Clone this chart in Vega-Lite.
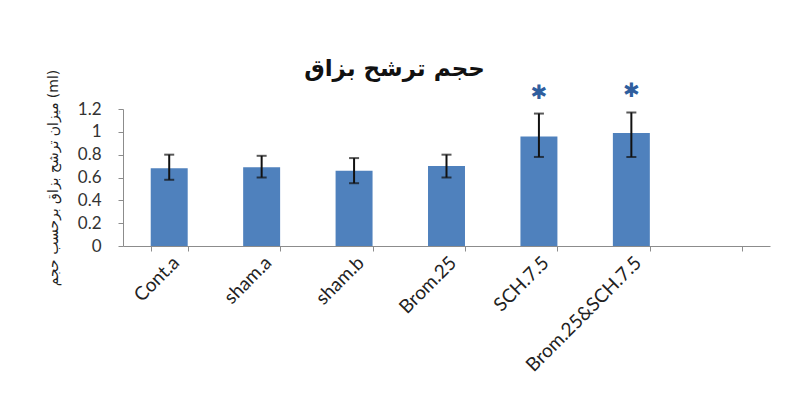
{
  "$schema": "https://vega.github.io/schema/vega-lite/v6.json",
  "autosize": {"type": "none"},
  "padding": {"left": 123, "top": 109, "right": 16, "bottom": 163},
  "width": 647,
  "height": 137,
  "background": "white",
  "title": {
    "text": "حجم ترشح بزاق",
    "font": "DejaVu Sans",
    "fontSize": 23,
    "fontWeight": "bold",
    "color": "#111111",
    "anchor": "middle",
    "frame": "group",
    "dx": -52,
    "offset": -12
  },
  "config": {
    "view": {"stroke": null},
    "font": "Lato, 'DejaVu Sans'",
    "axisY": {
      "tickCount": 7,
      "labelOverlap": false,
      "labelFontSize": 17,
      "labelColor": "#333333",
      "labelFont": "Lato",
      "grid": false,
      "tickSize": 5,
      "labelPadding": 17,
      "domainColor": "#8c8c8c",
      "tickColor": "#8c8c8c",
      "titleFont": "DejaVu Sans",
      "titleFontSize": 14,
      "titleFontWeight": "normal",
      "titleColor": "#222222",
      "titlePadding": 17
    }
  },
  "data": {
    "values": [
      {"group": "Cont.a", "mean": 0.68, "lo": 0.58, "hi": 0.80, "sig": ""},
      {"group": "sham.a", "mean": 0.69, "lo": 0.60, "hi": 0.79, "sig": ""},
      {"group": "sham.b", "mean": 0.66, "lo": 0.55, "hi": 0.77, "sig": ""},
      {"group": "Brom.25", "mean": 0.70, "lo": 0.60, "hi": 0.80, "sig": ""},
      {"group": "SCH.7.5", "mean": 0.96, "lo": 0.78, "hi": 1.16, "sig": "✱"},
      {"group": "Brom.25&SCH.7.5", "mean": 0.99, "lo": 0.78, "hi": 1.17, "sig": "✱"}
    ]
  },
  "encoding": {
    "x": {
      "field": "group",
      "type": "nominal",
      "sort": null,
      "scale": {
        "domain": ["Cont.a", "sham.a", "sham.b", "Brom.25", "SCH.7.5", "Brom.25&SCH.7.5", " "],
        "paddingInner": 0.6,
        "paddingOuter": 0.3
      },
      "axis": {
        "title": null,
        "labelAngle": -45,
        "labelFontSize": 19,
        "labelColor": "#222222",
        "labelFont": "Lato",
        "labelOverlap": false,
        "labelLimit": 300,
        "tickBand": "extent",
        "tickSize": 5,
        "domainColor": "#8c8c8c",
        "tickColor": "#8c8c8c",
        "labelPadding": 2
      }
    }
  },
  "layer": [
    {
      "mark": {"type": "bar", "color": "#4F81BD"},
      "encoding": {
        "y": {
          "field": "mean",
          "type": "quantitative",
          "scale": {"domain": [0, 1.2], "nice": false},
          "axis": {
            "title": "میزان ترشح بزاق برحسب حجم (ml)",
            "values": [0, 0.2, 0.4, 0.6, 0.8, 1, 1.2],
            "format": "~g"
          }
        }
      }
    },
    {
      "mark": {"type": "rule", "color": "#111111", "strokeWidth": 2},
      "encoding": {
        "y": {"field": "lo", "type": "quantitative", "axis": {"title": "میزان ترشح بزاق برحسب حجم (ml)", "values": [0, 0.2, 0.4, 0.6, 0.8, 1, 1.2], "format": "~g"}},
        "y2": {"field": "hi"}
      }
    },
    {
      "mark": {"type": "tick", "color": "#111111", "thickness": 2, "size": 10, "orient": "horizontal"},
      "encoding": {"y": {"field": "lo", "type": "quantitative", "axis": {"title": "میزان ترشح بزاق برحسب حجم (ml)", "values": [0, 0.2, 0.4, 0.6, 0.8, 1, 1.2], "format": "~g"}}}
    },
    {
      "mark": {"type": "tick", "color": "#111111", "thickness": 2, "size": 10, "orient": "horizontal"},
      "encoding": {"y": {"field": "hi", "type": "quantitative", "axis": {"title": "میزان ترشح بزاق برحسب حجم (ml)", "values": [0, 0.2, 0.4, 0.6, 0.8, 1, 1.2], "format": "~g"}}}
    },
    {
      "mark": {"type": "text", "color": "#2F5E9E", "fontSize": 20, "dy": -21, "baseline": "middle", "font": "DejaVu Sans", "clip": false},
      "encoding": {
        "y": {"field": "hi", "type": "quantitative", "axis": {"title": "میزان ترشح بزاق برحسب حجم (ml)", "values": [0, 0.2, 0.4, 0.6, 0.8, 1, 1.2], "format": "~g"}},
        "text": {"field": "sig"}
      }
    }
  ]
}
